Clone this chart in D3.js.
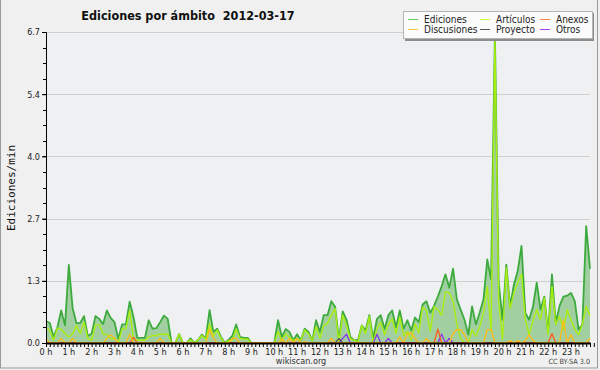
<!DOCTYPE html>
<html><head><meta charset="utf-8">
<script src="https://cdn.jsdelivr.net/npm/d3@7"></script>
<style>
html,body{margin:0;padding:0;background:#f0f0f0;}
svg{display:block;}
text{font-family:"DejaVu Sans Condensed","DejaVu Sans",sans-serif;font-stretch:condensed;}
</style></head>
<body>
<svg id="c" width="600" height="370"></svg>
<script>
// ---- data (edits per minute, 10-minute slots, 2012-03-17) ----
const title = "Ediciones por \u00e1mbito  2012-03-17";
const yTitle = "Ediciones/min";
const hourLabels = ["0 h","1 h","2 h","3 h","4 h","5 h","6 h","7 h","8 h","9 h","10 h","11 h","12 h","13 h","14 h","15 h","16 h","17 h","18 h","19 h","20 h","21 h","22 h","23 h"];
const yTickLabels = ["0.0","1.3","2.7","4.0","5.4","6.7"];
const yMax = 6.7;

const ediciones = [
0.47,0.43,0.13,0.34,0.70,0.38,1.68,0.75,0.43,0.43,0.58,0.15,
0.20,0.58,0.52,0.41,0.70,0.54,0.45,0.09,0.40,0.40,0.89,0.56,
0.11,0.11,0.11,0.49,0.31,0.32,0.45,0.59,0.52,0,0,0.19,
0,0,0.10,0,0.07,0.18,0.10,0.71,0.24,0.31,0.13,0,
0.07,0.16,0.40,0.13,0.11,0.11,0,0,0,0,0,0,
0,0.49,0.13,0.30,0.24,0.06,0.19,0.06,0.31,0.24,0.05,0.49,
0.24,0.60,0.60,0.90,0.78,0.08,0.68,0.50,0.13,0.06,0.06,0.38,
0.27,0.60,0.10,0.52,0.60,0.30,0.60,0.70,0.34,0.70,0.31,0.49,
0.27,0.55,0.45,0.83,0.90,0.65,0.80,1.00,1.22,1.48,1.19,1.60,
0.94,0.72,0.50,0.18,0.79,0.40,0.65,0.94,1.80,1.37,6.70,1.30,
0.50,1.69,0.79,1.26,1.55,2.09,0.65,0.50,0.78,1.30,0.72,1.00,
0.22,1.48,0.43,0.80,1.00,1.02,1.08,0.90,0.29,0.40,2.52,1.60];

const articulos = [
0.34,0.27,0.06,0.32,0.30,0.20,0.13,0.20,0.38,0.20,0.45,0.10,
0.06,0.39,0.39,0.20,0.18,0.09,0.09,0,0.31,0.31,0.70,0.09,
0.06,0.06,0.06,0.13,0.16,0.16,0.19,0.19,0.19,0,0,0.19,
0,0,0.07,0,0.07,0.16,0.08,0.41,0.14,0.28,0.10,0,
0.05,0.06,0.30,0.10,0.08,0.08,0,0,0,0,0,0,
0,0.25,0.05,0.20,0.12,0.06,0.09,0.06,0.28,0.20,0.05,0.35,
0.10,0.38,0.42,0.60,0.74,0.02,0.60,0.38,0.09,0.06,0.02,0.38,
0.20,0.57,0,0.31,0.45,0.18,0.41,0.52,0.20,0.56,0.16,0.25,
0.06,0.41,0.22,0.77,0.70,0.25,0.78,0.72,0.60,1.10,1.08,0.90,
0.40,0.10,0,0,0.29,0.15,0.35,0.65,1.22,0.25,6.50,0.90,
0.08,1.62,0.74,1.08,1.30,1.48,0.50,0.18,0.47,0.72,0.50,0.97,
0.18,1.22,0.40,0.58,0.29,0.72,0.50,0.29,0.18,0.40,0.79,0.58];

const discusiones = [
0.09,0,0,0,0.10,0,0,0.10,0,0,0,0,
0,0,0,0,0.10,0.18,0.10,0,0,0,0.19,0,
0,0,0,0,0,0,0.10,0,0,0,0,0,
0,0,0,0,0,0,0,0.30,0.10,0,0,0,
0,0.10,0.10,0,0,0,0,0,0,0,0,0,
0,0,0.08,0,0.10,0,0.10,0,0.03,0,0,0,
0,0,0,0.10,0,0,0,0,0,0,0,0,
0,0,0,0,0,0,0,0,0,0.13,0,0.20,
0.21,0.10,0,0,0.10,0,0,0,0,0,0,0.20,
0.29,0.29,0.18,0,0,0,0,0,0.29,0.29,0,0,
0,0,0.05,0,0.05,0,0.05,0.18,0.05,0,0,0,
0,0,0,0,0.50,0,0.18,0,0,0,0,0.10];

const anexos = [
0,0,0,0,0,0,0,0,0,0,0,0,
0,0,0,0,0,0,0,0,0,0,0,0.12,
0,0,0,0,0,0,0,0,0,0,0,0,
0,0,0,0,0,0,0,0,0,0,0,0,
0,0,0,0,0,0,0,0,0,0,0,0,
0,0,0,0,0,0,0,0,0,0,0,0,
0,0,0,0,0,0,0,0,0,0,0,0,
0,0,0,0,0,0,0,0,0,0,0,0,
0,0,0,0,0,0,0,0.30,0,0,0,0,
0,0,0,0,0,0,0,0,0,0,0,0,
0,0,0,0,0,0,0,0,0,0,0,0,
0,0.20,0,0,0,0,0,0,0,0,0,0];

const proyecto = [
0,0,0,0,0,0,0,0,0,0,0,0,
0,0,0,0,0,0,0,0,0,0,0,0,
0,0,0,0,0,0,0,0,0,0,0,0,
0,0,0,0,0,0,0,0,0,0,0,0,
0,0,0,0,0,0,0,0,0,0,0,0,
0,0,0,0,0,0,0,0,0,0,0,0,
0,0,0,0,0,0.10,0,0,0,0,0,0,
0,0,0,0,0,0,0,0,0,0,0,0,
0,0,0,0,0,0,0,0,0,0,0,0,
0,0,0,0,0,0,0,0,0,0,0,0,
0,0,0,0,0,0,0,0,0,0,0,0,
0,0,0,0,0,0,0,0,0,0,0,0];

const otros = [
0,0,0,0,0,0,0,0,0,0,0,0,
0,0,0,0,0,0,0,0,0,0,0,0,
0,0,0,0,0,0,0,0,0,0,0,0,
0,0,0,0,0,0,0,0,0,0,0,0,
0,0,0,0,0,0,0,0,0,0,0,0,
0,0,0,0,0,0,0,0,0,0,0,0,
0,0,0,0,0,0,0.10,0.19,0,0,0,0,
0,0,0,0.19,0,0,0.10,0,0,0,0,0,
0,0,0,0,0,0,0,0,0.19,0,0.10,0,
0,0,0,0,0,0,0,0,0,0,0,0,
0,0,0,0,0,0,0,0,0,0,0,0,
0,0,0,0,0,0,0,0,0,0,0,0];

const seriesNames = ["Ediciones","Art\u00edculos","Anexos","Discusiones","Proyecto","Otros"];
const seriesColors = ["#3daa3d","#aaee11","#ff5a1e","#ffbb11","#555555","#8a33ee"];
const legendColors = ["#66cc66","#ccff33","#ff8844","#ffcc33","#555555","#aa44ff"];

// ---- drawing ----
const svg = d3.select("#c");
const W = 600, H = 370;
const m = {l:46, r:590, t:32, b:343};
const slotsPerHour = 6;
const n = ediciones.length;

svg.append("rect").attr("x",0).attr("y",0).attr("width",W).attr("height",H).attr("fill","#f0f0f0");
svg.append("rect").attr("x",0.5).attr("y",-1).attr("width",597).attr("height",369)
  .attr("fill","none").attr("stroke","#9a9a9a");

const x = d3.scaleLinear().domain([0, n-1]).range([m.l, m.r]);
const y = d3.scaleLinear().domain([0, yMax]).range([m.b, m.t]);

svg.append("rect").attr("x",m.l).attr("y",m.t).attr("width",m.r-m.l).attr("height",m.b-m.t).attr("fill","#eef0f2");

const majorVals = yTickLabels.map((d,i)=> yMax*i/(yTickLabels.length-1));
// grid
svg.append("g").selectAll("line").data(majorVals.slice(1)).join("line")
  .attr("x1",m.l).attr("x2",m.r).attr("y1",d=>Math.round(y(d))+0.5).attr("y2",d=>Math.round(y(d))+0.5)
  .attr("stroke","#cfcfcf");

// area + lines
const idx = d3.range(n);
const area = d3.area().x(i=>x(i)).y0(y(0)).y1(i=>y(ediciones[i]));
svg.append("path").datum(idx).attr("d",area).attr("fill","#a2cfa2");

function line(arr){ return d3.line().x(i=>x(i)).y(i=>y(arr[i]))(idx); }
const data = [ediciones, articulos, anexos, discusiones, proyecto, otros];
const order = [0,1,5,4,2,3];
const widths = [1.8,1.4,1.3,1.3,1.2,1.3];
order.forEach(k=>{
  svg.append("path").attr("d",line(data[k])).attr("fill","none")
    .attr("stroke",seriesColors[k]).attr("stroke-width",widths[k]).attr("stroke-linejoin","round");
});

// y axis
const yAxis = d3.axisLeft(y).tickValues(majorVals).tickFormat((d,i)=>yTickLabels[i]).tickSize(4).tickPadding(2);
const gy = svg.append("g").attr("transform",`translate(${m.l},0)`).call(yAxis);
gy.select(".domain").attr("stroke","#000");
gy.selectAll("text").attr("font-size",9).attr("fill","#222");
const minorY = d3.range(0, (yTickLabels.length-1)*4+1).map(i=> yMax*i/((yTickLabels.length-1)*4));
svg.append("g").selectAll("line").data(minorY).join("line")
  .attr("x1",m.l-3).attr("x2",m.l).attr("y1",d=>Math.round(y(d))+0.5).attr("y2",d=>Math.round(y(d))+0.5).attr("stroke","#000");

// x axis
const xAxis = d3.axisBottom(x).tickValues(d3.range(0, n+1)).tickFormat("").tickSize(4).tickSizeOuter(0);
const gx = svg.append("g").attr("transform",`translate(0,${m.b})`).call(xAxis);
gx.select(".domain").attr("stroke","#000").attr("stroke-width",2);
svg.append("g").selectAll("text").data(hourLabels).join("text")
  .attr("x",(d,i)=>x(i*slotsPerHour)).attr("y",355).attr("text-anchor","middle")
  .attr("font-size",9).attr("fill","#222").text(d=>d);

// titles
svg.append("text").attr("x",188).attr("y",20).attr("text-anchor","middle")
  .style("white-space","pre").attr("xml:space","preserve")
  .attr("font-size",12.5).attr("font-weight","bold").attr("fill","#111").text(title);
svg.append("text").attr("transform","translate(15,188) rotate(-90)").attr("text-anchor","middle")
  .style("font-family","'DejaVu Sans Mono',monospace").style("font-stretch","normal")
  .attr("font-size",11).attr("fill","#111").text(yTitle);
svg.append("text").attr("x",301).attr("y",364).attr("text-anchor","middle")
  .attr("font-size",9).attr("fill","#333").text("wikiscan.org");
svg.append("text").attr("x",590).attr("y",364).attr("text-anchor","end")
  .attr("font-size",7.2).attr("fill","#444").text("CC BY-SA 3.0");

// legend
const lg = svg.append("g");
lg.append("rect").attr("x",405).attr("y",13).attr("width",189).attr("height",28).attr("fill","#8c8c8c");
lg.append("rect").attr("x",403.5).attr("y",11.5).attr("width",189).attr("height",27).attr("fill","#fbfbfb").attr("stroke","#b5b5b5");
const cols = [408, 480, 540];
const rows = [19, 29];
seriesNames.forEach((name,i)=>{
  const c = i%3, r = Math.floor(i/3);
  lg.append("line").attr("x1",cols[c]).attr("x2",cols[c]+10).attr("y1",rows[r]+0.5).attr("y2",rows[r]+0.5)
    .attr("stroke",legendColors[i]).attr("stroke-width",1);
  lg.append("text").attr("x",cols[c]+16).attr("y",rows[r]+3.5).attr("font-size",10).attr("fill","#222").text(name);
});
</script>
</body></html>
